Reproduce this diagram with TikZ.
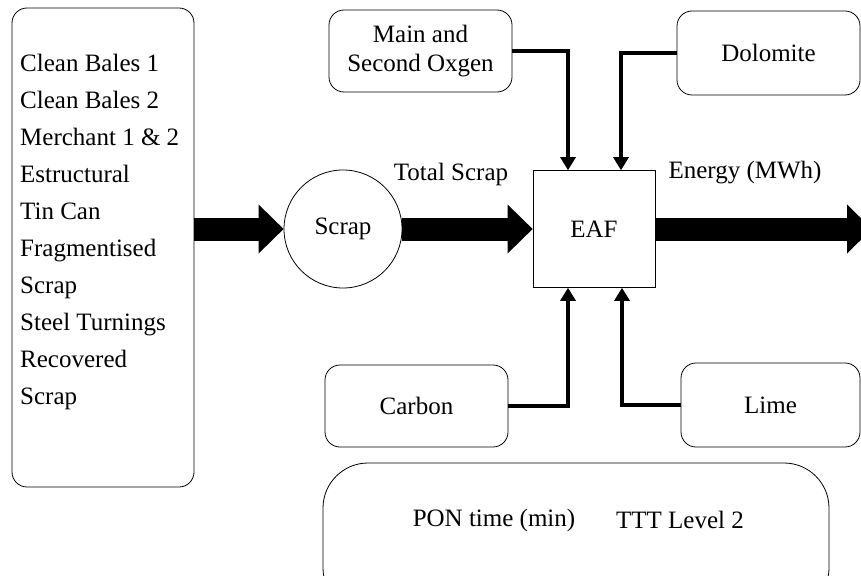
\documentclass[tikz,border=0pt]{standalone}
\usepackage{fontspec}
\setmainfont{Liberation Serif}
\usetikzlibrary{arrows.meta,positioning,calc}

\tikzset{
  roundbox/.style={draw, line width=0.8pt, rounded corners=15pt, minimum width=183pt, minimum height=82pt, align=center, inner sep=0pt},
  bigarrow/.style={line width=23pt, -{Triangle[length=25pt,width=49pt,line width=0pt]}},
  feedarrow/.style={line width=4pt, -{Triangle[length=13pt,width=16pt,line width=0pt]}},
}

\begin{document}
\begin{tikzpicture}[x=1pt,y=-1pt,font=\fontsize{25}{29}\selectfont]
\useasboundingbox (0,0) rectangle (861,575);
% scrap grades
\node[draw, line width=0.8pt, rounded corners=15pt, minimum width=182pt, minimum height=479pt] (grades) at (103,247.5) {};
\node[anchor=north west, align=left, inner sep=0pt, font=\fontsize{25}{37.1}\selectfont] (gradelist) at (20,53.5) {Clean Bales 1\\Clean Bales 2\\Merchant 1 \& 2\\Estructural\\Tin Can\\Fragmentised\\Scrap\\Steel Turnings\\Recovered\\Scrap};
% main line
\node[draw, line width=0.8pt, circle, minimum size=118pt, inner sep=0pt] (scrap) at (343,229) {Scrap};
\node[draw, line width=0.8pt, minimum width=122pt, minimum height=117pt, inner sep=0pt] (eaf) at (594,229) {EAF};
\coordinate (out) at (872,229);
\draw[bigarrow] (grades.east |- scrap.west) -- (scrap.west);
\draw[bigarrow] (scrap.east) -- (eaf.west);
\draw[bigarrow] (eaf.east) -- (out);
\node (totlbl) at (451,174) {Total Scrap};
\node (enlbl) at (745,173) {Energy (MWh)};
% additions
\node[roundbox] (oxy) at (420.5,51) {Main and\\Second Oxgen};
\node[roundbox, minimum height=84pt] (dolo) at (768.5,53) {Dolomite};
\node[roundbox] (carb) at (416.5,406) {Carbon};
\node[roundbox, minimum width=179pt, minimum height=84pt] (lime) at (770.5,405) {Lime};
\draw[feedarrow] (oxy.east) -| ([xshift=-26pt]eaf.north);
\draw[feedarrow] (dolo.west) -| ([xshift=27pt]eaf.north);
\draw[feedarrow] (carb.east) -| ([xshift=-26pt]eaf.south);
\draw[feedarrow] (lime.west) -| ([xshift=28pt]eaf.south);
% process data
\node[draw, line width=0.8pt, rounded corners=45pt, minimum width=506pt, minimum height=150pt] (ponbox) at (576,538) {};
\node (ponlbl) at (494,520) {PON time (min)};
\node (tttlbl) at (680,520) {TTT Level 2};
\end{tikzpicture}
\end{document}
